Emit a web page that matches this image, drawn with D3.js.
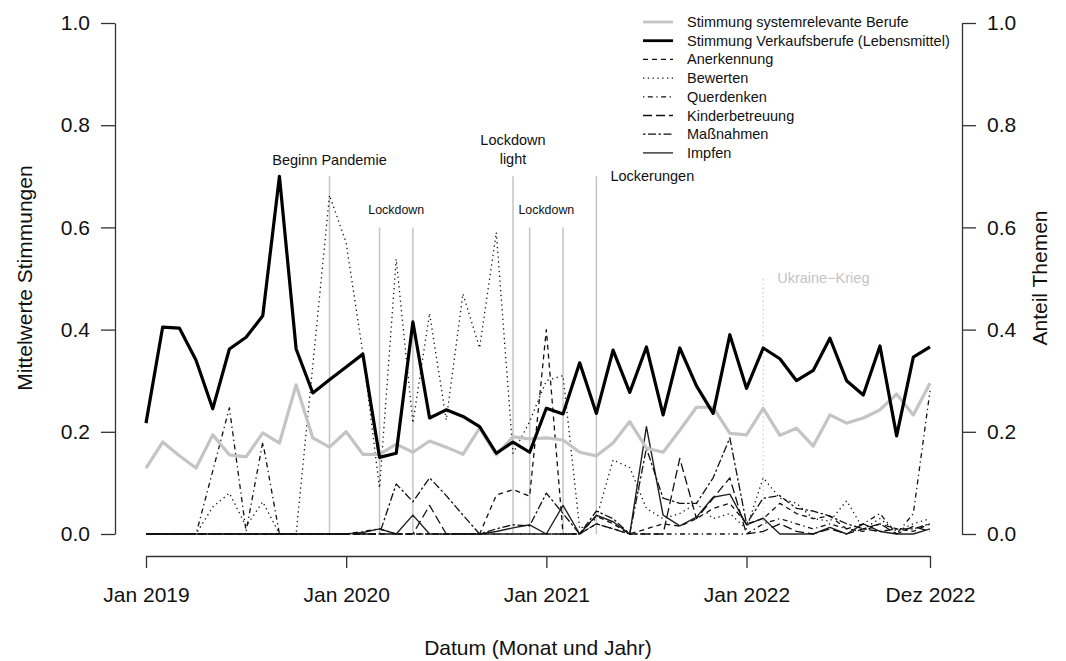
<!DOCTYPE html>
<html>
<head>
<meta charset="utf-8">
<script src="https://cdn.jsdelivr.net/npm/d3@7"></script>
<style>
html,body{margin:0;padding:0;background:#fff;}
svg{display:block;font-family:"Liberation Sans",Arial,Helvetica,sans-serif;}
</style>
</head>
<body>
<svg id="chart" width="1066" height="661"></svg>
<script>
// ---------- data ----------
const xTickIdx    = [0, 12, 24, 36, 47];
const xTickLabels = ["Jan 2019", "Jan 2020", "Jan 2021", "Jan 2022", "Dez 2022"];
const yTicks      = [0, 0.2, 0.4, 0.6, 0.8, 1.0];

const sysrel = [0.129,0.18,0.153,0.129,0.194,0.155,0.151,0.198,0.178,0.292,
                0.188,0.17,0.2,0.156,0.156,0.176,0.16,0.182,0.17,0.156,
                0.207,0.155,0.19,0.186,0.188,0.184,0.16,0.153,0.178,0.22,
                0.168,0.16,0.203,0.248,0.248,0.197,0.194,0.246,0.193,0.207,
                0.172,0.233,0.217,0.227,0.243,0.274,0.233,0.295];
const verkauf = [0.217,0.405,0.403,0.34,0.245,0.362,0.385,0.427,0.70,0.362,
                 0.276,0.302,0.327,0.352,0.15,0.158,0.415,0.227,0.243,0.23,
                 0.21,0.158,0.18,0.16,0.246,0.235,0.335,0.236,0.36,0.277,
                 0.366,0.233,0.364,0.29,0.236,0.39,0.285,0.364,0.343,0.30,
                 0.32,0.383,0.30,0.272,0.368,0.192,0.346,0.366];
const anerkennung = [0,0,0,0,0,0,0,0,0,0,
                     0,0,0,0,0,0,0,0,0,0,
                     0,0.076,0.087,0.074,0.40,0,0,0.035,0.02,0,
                     0.01,0.02,0.015,0.03,0.05,0.06,0.02,0.03,0.06,0.04,
                     0.03,0.035,0.01,0.005,0.02,0.01,0.005,0.02];
const bewerten = [0,0,0,0,0.053,0.08,0.015,0.063,0,0,
                  0.33,0.663,0.57,0.354,0.09,0.538,0.217,0.432,0.223,0.47,
                  0.364,0.59,0.158,0.22,0.30,0.31,0.01,0.03,0.145,0.13,
                  0.05,0.03,0.04,0.06,0.03,0.04,0.01,0.11,0.07,0.06,
                  0.03,0.025,0.065,0.01,0.03,0.005,0.02,0.03];
const querdenken = [0,0,0,0,0.123,0.247,0.005,0.18,0,0,
                    0,0,0,0.005,0.01,0,0,0,0,0,
                    0,0,0,0,0,0,0,0.02,0.01,0,
                    0,0,0,0,0,0,0,0.02,0.03,0.02,
                    0.01,0.02,0.01,0.02,0.04,0,0.04,0.28];
const kinder = [0,0,0,0,0,0,0,0,0,0,
                0,0,0,0,0,0,0,0.056,0,0,
                0,0,0,0,0,0,0,0.02,0.01,0,
                0,0,0.148,0.03,0.07,0.11,0,0.005,0.02,0.005,
                0,0.01,0,0.01,0.02,0,0.015,0.005];
const massnahmen = [0,0,0,0,0,0,0,0,0,0,
                    0,0,0,0,0,0.098,0.063,0.11,0.075,0.037,
                    0,0.01,0.018,0.016,0.08,0.04,0,0.045,0.03,0,
                    0.168,0.07,0.06,0.06,0.11,0.188,0.02,0.07,0.075,0.05,
                    0.045,0.035,0.02,0.01,0.005,0.01,0.01,0.02];
const impfen = [0,0,0,0,0,0,0,0,0,0,
                0,0,0,0.003,0.01,0,0.037,0,0,0,
                0,0.005,0.012,0.018,0,0.056,0,0.037,0.024,0,
                0.21,0.037,0.016,0.033,0.072,0.078,0.018,0.031,0,0,
                0,0.013,0,0.02,0.005,0,0,0.01];

const seriesNames = ["Stimmung systemrelevante Berufe","Stimmung Verkaufsberufe (Lebensmittel)",
  "Anerkennung","Bewerten","Querdenken","Kinderbetreuung","Maßnahmen","Impfen"];

const eventIdx   = [11, 14, 16, 22, 23, 25, 27];
const eventTop   = [0.70, 0.60, 0.60, 0.70, 0.60, 0.60, 0.70];
const ukraineIdx = 37;
const ukraineTop = 0.50;

// ---------- layout ----------
const svg = d3.select("#chart");
const x = d3.scaleLinear().domain([0, 47]).range([146, 930]);
const y = d3.scaleLinear().domain([0, 1]).range([534, 23]);
const axisCol = "#333";

const styles = [
  {data: sysrel,      color:"#c4c4c4", width:3.2, dash:null},
  {data: verkauf,     color:"#000",    width:3.2, dash:null},
  {data: anerkennung, color:"#111",    width:1.3, dash:"5,4"},
  {data: bewerten,    color:"#111",    width:1.3, dash:"1.3,3.5"},
  {data: querdenken,  color:"#111",    width:1.3, dash:"1.3,3.5,5,3.5"},
  {data: kinder,      color:"#111",    width:1.3, dash:"9,4"},
  {data: massnahmen,  color:"#111",    width:1.3, dash:"2.5,2.5,8,2.5"},
  {data: impfen,      color:"#222",    width:1.4, dash:null}
];

// event lines
svg.append("g").selectAll("line").data(eventIdx).join("line")
  .attr("x1", d => x(d)).attr("x2", d => x(d))
  .attr("y1", y(0)).attr("y2", (d,i) => y(eventTop[i]))
  .attr("stroke", "#c4c4c4").attr("stroke-width", 1.5);
svg.append("line")
  .attr("x1", x(ukraineIdx)).attr("x2", x(ukraineIdx))
  .attr("y1", y(0)).attr("y2", y(ukraineTop))
  .attr("stroke", "#c8c8c8").attr("stroke-width", 1.2).attr("stroke-dasharray", "1.3,3");

// event labels
const lab = svg.append("g").attr("fill", "#111");
lab.append("text").attr("x", x(11)).attr("y", y(0.70) - 11).attr("text-anchor","middle")
  .attr("font-size", 14.5).text("Beginn Pandemie");
lab.append("text").attr("x", (x(14)+x(16))/2).attr("y", y(0.60) - 13).attr("text-anchor","middle")
  .attr("font-size", 12.4).text("Lockdown");
lab.append("text").attr("x", x(22)).attr("y", y(0.70) - 31).attr("text-anchor","middle")
  .attr("font-size", 14.5).text("Lockdown");
lab.append("text").attr("x", x(22)).attr("y", y(0.70) - 12).attr("text-anchor","middle")
  .attr("font-size", 14.5).text("light");
lab.append("text").attr("x", (x(23)+x(25))/2).attr("y", y(0.60) - 13).attr("text-anchor","middle")
  .attr("font-size", 12.4).text("Lockdown");
lab.append("text").attr("x", x(27) + 14).attr("y", y(0.70) + 5)
  .attr("font-size", 14.5).text("Lockerungen");
svg.append("text").attr("x", x(ukraineIdx) + 14).attr("y", y(ukraineTop) + 4)
  .attr("font-size", 14.5).attr("fill", "#c4c4c4").text("Ukraine\u2212Krieg");

// series lines
const line = d3.line().x((d,i) => x(i)).y(d => y(d));
const drawOrder = [7,6,5,4,3,2,0,1];
drawOrder.forEach(k => {
  const s = styles[k];
  svg.append("path").datum(s.data)
    .attr("d", line).attr("fill", "none")
    .attr("stroke", s.color).attr("stroke-width", s.width)
    .attr("stroke-linejoin", "round")
    .attr("stroke-dasharray", s.dash);
});

// axes
function styleAxis(g) {
  g.selectAll("path.domain").attr("stroke", axisCol).attr("stroke-width", 1.3);
  g.selectAll(".tick line").attr("stroke", axisCol).attr("stroke-width", 1.3);
  g.selectAll(".tick text").attr("fill", "#111").attr("font-size", 21)
    .attr("font-family", "Liberation Sans, Arial, sans-serif");
}
const fmt = d3.format(".1f");
svg.append("g").attr("transform", "translate(115,0)")
  .call(d3.axisLeft(y).tickValues(yTicks).tickFormat(fmt).tickSize(14).tickSizeOuter(0).tickPadding(11))
  .call(styleAxis);
svg.append("g").attr("transform", "translate(962,0)")
  .call(d3.axisRight(y).tickValues(yTicks).tickFormat(fmt).tickSize(14).tickSizeOuter(0).tickPadding(11))
  .call(styleAxis);
svg.append("g").attr("transform", "translate(0,556)")
  .call(d3.axisBottom(x).tickValues(xTickIdx).tickFormat((d,i) => xTickLabels[i])
        .tickSize(12).tickSizeOuter(0).tickPadding(19))
  .call(styleAxis);

// axis titles
svg.append("text").attr("transform", "translate(32,278) rotate(-90)")
  .attr("text-anchor", "middle").attr("font-size", 21).attr("fill", "#111").text("Mittelwerte Stimmungen");
svg.append("text").attr("transform", "translate(1047,278) rotate(-90)")
  .attr("text-anchor", "middle").attr("font-size", 21).attr("fill", "#111").text("Anteil Themen");
svg.append("text").attr("x", 538).attr("y", 655)
  .attr("text-anchor", "middle").attr("font-size", 21).attr("fill", "#111").text("Datum (Monat und Jahr)");

// legend
const leg = svg.append("g");
styles.forEach((s, i) => {
  const yy = 22 + i * 18.7;
  leg.append("line").attr("x1", 643).attr("x2", 673).attr("y1", yy).attr("y2", yy)
    .attr("stroke", s.color).attr("stroke-width", s.width === 3.2 ? 2.8 : 1.3)
    .attr("stroke-dasharray", s.dash);
  leg.append("text").attr("x", 687).attr("y", yy + 5).attr("font-size", 14.5)
    .attr("fill", "#111").text(seriesNames[i]);
});
</script>
</body>
</html>
